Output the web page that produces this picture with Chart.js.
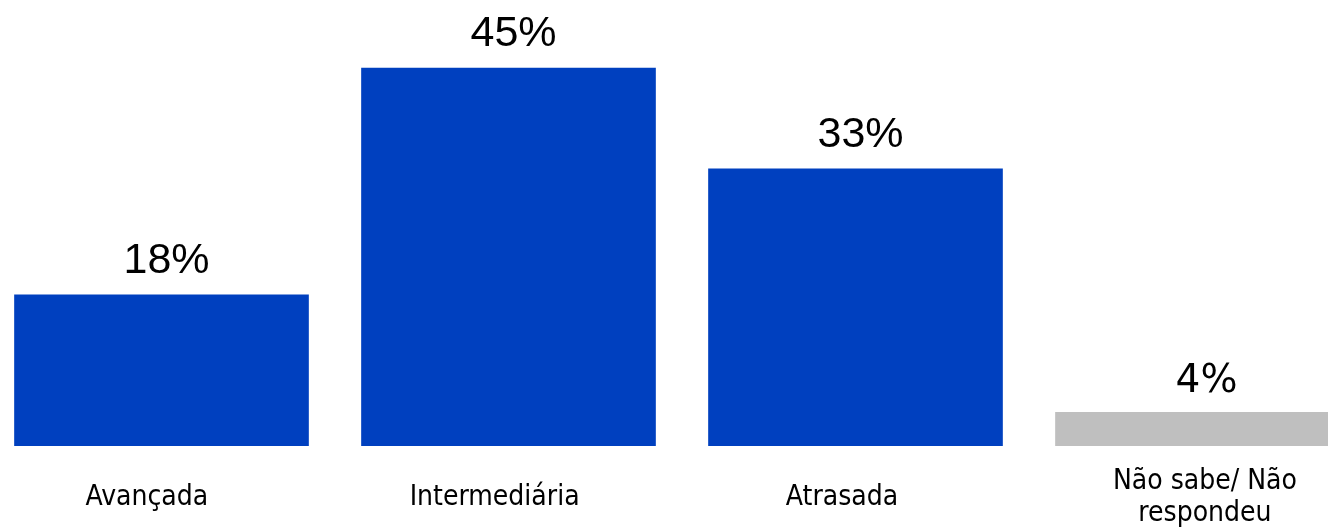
<!DOCTYPE html>
<html>
<head>
<meta charset="utf-8">
<script src="https://cdn.jsdelivr.net/npm/chart.js@4"></script>
<style>
  html, body { margin: 0; padding: 0; background: #fff; overflow: hidden; }
  #wrap { position: absolute; left: -12.5px; top: 0; width: 1388px; height: 531px; }
</style>
</head>
<body>
<div id="wrap"><canvas id="c"></canvas></div>
<script>
const categories = ['Avançada', 'Intermediária', 'Atrasada', ['Não sabe/ Não', 'respondeu']];
const values = [18, 45, 33, 4];
const valueLabels = ['18%', '45%', '33%', '4%'];
const barColors = ['#0040BF', '#0040BF', '#0040BF', '#BFBFBF'];
// small horizontal nudges of the category text, in category units (style)
const labelNudge = [-0.042, -0.040, -0.039, 0.007];

const valuePlugin = {
  id: 'valueLabels',
  afterDatasetsDraw(chart) {
    const ctx = chart.ctx;
    const meta = chart.getDatasetMeta(0);
    ctx.save();
    ctx.fillStyle = '#000';
    ctx.textAlign = 'center';
    ctx.textBaseline = 'alphabetic';
    meta.data.forEach((bar, i) => {
      if (i === 3) {
        ctx.font = '39px "DejaVu Sans"';
        ctx.fillText(valueLabels[i], bar.x + 4, bar.y - 20);
      } else {
        ctx.font = '43px "Liberation Sans", Arial';
        ctx.fillText(valueLabels[i], bar.x + 5, bar.y - 22);
      }
    });
    ctx.restore();
  }
};

new Chart(document.getElementById('c'), {
  type: 'bar',
  data: {
    labels: categories,
    datasets: [{
      data: values,
      backgroundColor: barColors,
      borderWidth: 0,
      barThickness: 294
    }]
  },
  options: {
    responsive: true,
    maintainAspectRatio: false,
    animation: false,
    layout: { padding: { top: 26, left: 0, right: 0, bottom: 0 } },
    plugins: { legend: { display: false }, tooltip: { enabled: false } },
    scales: {
      y: { display: false, min: 0, max: 50 },
      x: {
        grid: { display: false, drawTicks: false },
        border: { display: false },
        afterFit(scale) { scale.height = 85; },
        afterBuildTicks(scale) {
          scale.ticks = scale.ticks.map((t, i) => ({ value: t.value + labelNudge[i] }));
        },
        ticks: {
          color: '#000',
          padding: 36,
          maxRotation: 0,
          autoSkip: false,
          crossAlign: 'center',
          callback: (v, i) => categories[i],
          font: { family: '"DejaVu Sans Condensed", "DejaVu Sans"', size: 28, lineHeight: 1.14 }
        }
      }
    }
  },
  plugins: [valuePlugin]
});
</script>
</body>
</html>
